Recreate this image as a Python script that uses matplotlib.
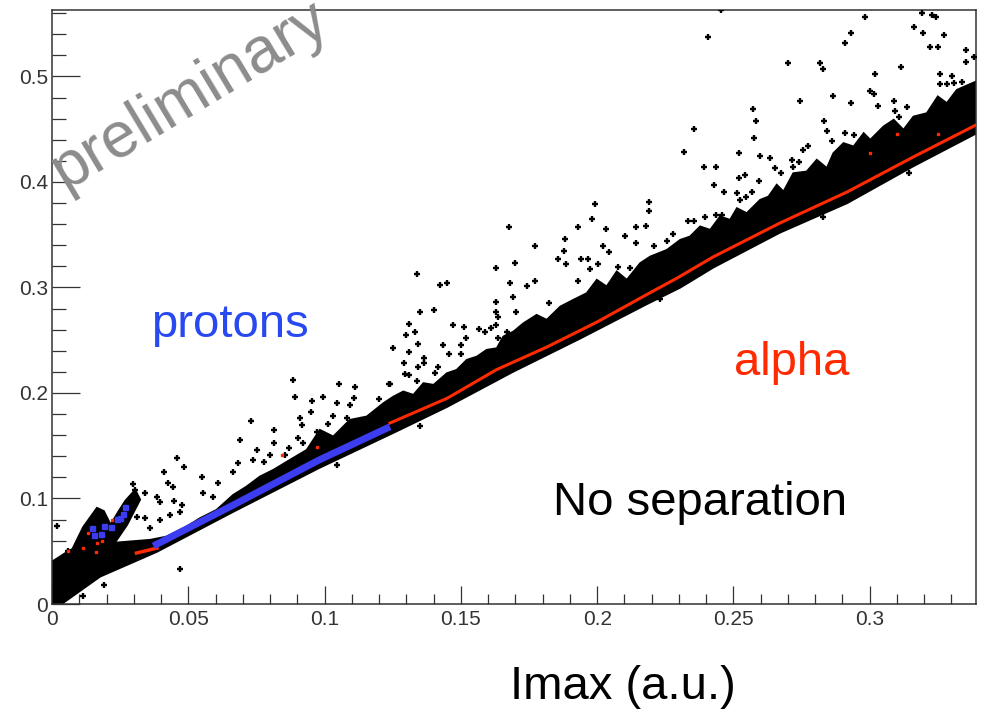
import matplotlib
matplotlib.use('Agg')
import matplotlib.pyplot as plt
from matplotlib.ticker import MultipleLocator

plt.rcParams['font.family'] = ['Liberation Sans', 'DejaVu Sans']

W, H = 982, 709

# values
BAND_X_LOW = [0, .002, .004, .0176, .03, .0385, .0665, .098, .1266, .145, .169, .194, .218, .2305, .2426, .267, .2917, .316, .339]
BAND_Y_LOW = [0, 0, .001, .026, .04, .0496, .0875, .129, .164, .187, .22, .252, .284, .3, .319, .352, .38, .415, .446]

BAND_X_UP = [0, .0066, .012, .023, .036, .0421, .0494, .0543, .0604, .0665, .0714, .0763, .0812, .0873, .0935, .0983,
             .1032, .1093, .1155, .1216, .1253, .1289, .1326, .1363, .14, .1449, .1485, .1522, .1559, .1595, .1632,
             .1656, .1693, .173, .1778, .1815, .1865, .1913, .1962, .1999, .2035, .2072, .2109, .2158, .2195, .2256,
             .2305, .2341, .2378, .2415, .2451, .2488, .2513, .2549, .2598, .2629, .2659, .2684, .272, .2769, .2806,
             .2843, .2867, .2904, .2941, .2978, .3002, .3051, .3088, .3124, .3161, .321, .325, .3283, .332, .339]
BAND_Y_UP = [.04, .051, .056, .058, .0607, .0638, .0733, .0812, .0891, .1033, .1112, .1207, .127, .1365, .146, .1649,
             .1586, .1744, .1776, .1902, .1965, .2013, .1981, .2092, .2076, .2186, .2218, .2313, .2344, .2408, .2423,
             .2534, .2581, .266, .2739, .2692, .2818, .2882, .2945, .3071, .3008, .315, .3071, .3229, .3292, .3355,
             .345, .3482, .3577, .3545, .3671, .364, .375, .3703, .3829, .3861, .3972, .3908, .4082, .4098, .4209,
             .413, .4272, .4367, .4335, .4461, .4398, .4525, .4588, .4493, .4619, .4651, .4809, .4746, .4872, .4951]

PRONG_X = [.0075, .0115, .0165, .019, .0215, .0245, .027, .0305, .0323, .0275, .023, .015]
PRONG_Y = [.052, .073, .091, .088, .075, .088, .098, .108, .099, .075, .058, .05]

RED_X = [.124, .145, .163, .1816, .2, .218, .2294, .2426, .267, .2917, .316, .339]
RED_Y = [.1715, .195, .222, .2436, .2673, .293, .309, .329, .361, .3905, .4237, .454]

RED_LOW_X = [.031, .0385]
RED_LOW_Y = [.0483, .053]

BLUE_X = [.0372, .0665, .098, .124]
BLUE_Y = [.055, .0938, .1365, .168]

BLUE_DOTS_X = [.0146, .0155, .018, .0191, .0215, .0237, .025, .0259, .0267]
BLUE_DOTS_Y = [.072, .0654, .0664, .0742, .073, .0806, .0815, .0853, .092]

RED_DOTS_X = [.0133, .0115, .016, .0165, .0182, .0219, .006, .0971, .0845, .3, .325, .31]
RED_DOTS_Y = [.0672, .0529, .0496, .0575, .0594, .0796, .0506, .1491, .1412, .4278, .4455, .445]

OUT_X = [.0017, .006, .047, .0191, .0113, .0457, .0411, .0486, .0549, .0427, .0443, .0384, .0396, .0448, .0476,
         .0298, .0305, .0341, .0311, .0341, .036, .0396, .0433, .047, .0555, .061, .0592, .0684, .0665, .069,
         .0729, .0751, .0739, .0776, .0816, .0816, .08, .0871, .0892, .0886, .091, .0916, .0904, .092, .0855,
         .0955, .0949, .0996, .1054, .1112, .1047, .1108, .1093, .1198, .124, .1032, .1014, .1081, .1136, .1047,
         .0971, .0983,
         .1338, .1424, .1448, .135, .1402, .1311, .1298, .1332, .1251, .1344, .1308, .1292, .1363, .1365, .1344,
         .1295, .1311, .1338, .1238, .1418, .1405, .1436, .1455, .15, .15, .1518, .1471, .1512, .1565, .1587,
         .161, .1629, .1635, .1669, .1629, .1629, .1635, .1675, .1629, .1697, .1681, .1691, .1703, .1742, .1773,
         .1773, .1825, .1858, .1877, .1883, .1887, .193, .194, .1965, .1974, .193, .198, .1992, .2033, .2005,
         .2021, .2042, .2102, .2143, .2143, .2179, .2189, .2189, .228, .2258, .2209, .2121, .2078, .2229, .135,
         .2455, .2405, .2699, .2816, .2828, .2984, .2931, .2908, .3191, .3228, .3244, .3163, .3197, .3273, .322,
         .325, .3353, .3353, .3384, .3116, .3018, .3257, .3302, .3257, .3283, .3308, .3339, .3002, .3017, .2867,
         .2745, .2931, .303, .3088, .3094, .3137, .3106, .2571, .2584, .2357, .2576, .2317, .2393, .2437, .2427,
         .2467, .2519, .2519, .2541, .2596, .2635, .2653, .2676, .2595, .2833, .2843, .2861, .2908, .2941, .2775,
         .2757, .2714, .2739, .272, .2513, .2568, .2525, .2547, .2335, .2357, .2396, .2437, .2458, .2828, .3145]
OUT_Y = [.0742, .0506, .0329, .018, .0076, .138, .1254, .1302, .1207, .1144, .1112, .1017, .097, .098, .0938,
         .1137, .1081, .1049, .0828, .0812, .0717, .0796, .0844, .0875, .1049, .1144, .1017, .1333, .1254, .1555,
         .1735, .146, .1365, .1349, .1649, .1523, .1412, .1476, .1959, .2123, .176, .1697, .157, .1523, .1412,
         .1924, .1823, .1965, .2085, .2054, .1908, .1949, .1886, .194, .2085, .1782, .1706, .176, .1728, .1318,
         .1633, .1491,
         .3125, .3024, .3046, .2771, .2787, .2654, .255, .2581, .2423, .2464, .2392, .2281, .2329, .2281, .225,
         .218, .2171, .2117, .2085, .2243, .2186, .2455, .237, .2455, .237, .2518, .2645, .2629, .2604, .2581,
         .2613, .2645, .2518, .2581, .2866, .2771, .2724, .357, .3188, .3235, .3039, .2913, .2771, .3014, .3062,
         .3393, .285, .3267, .3346, .346, .3223, .357, .3267, .3267, .3172, .3062, .3649, .3791, .3551, .322,
         .3393, .3333, .3491, .357, .3425, .3586, .381, .3728, .3507, .3444, .3393, .3182, .3197, .2888, .1687,
         .563, .5378, .5125, .5125, .5071, .5567, .5409, .5314, .5599, .5583, .5567, .5472, .5409, .5393, .5283,
         .5283, .5251, .5134, .5182, .5087, .5024, .5024, .5008, .4929, .4929, .4935, .4951, .4866, .4834, .4818,
         .4771, .4752, .472, .4771, .4676, .4714, .4613, .4689, .4578, .4499, .442, .4288, .4145, .4145, .3972,
         .3908, .4278, .4035, .4066, .4246, .4224, .413, .4082, .4013, .4578, .4483, .4389, .4468, .4445, .4341,
         .4303, .4209, .4193, .4145, .3893, .3908, .3829, .3861, .3634, .3634, .3671, .3687, .3687, .3665, .4082]

X_TICKS = [0, .05, .1, .15, .2, .25, .3]
X_LABELS = ['0', '0.05', '0.1', '0.15', '0.2', '0.25', '0.3']
Y_TICKS = [0, .1, .2, .3, .4, .5]
Y_LABELS = ['0', '0.1', '0.2', '0.3', '0.4', '0.5']

RED = '#ff2a00'
BLUE = '#3c3cf0'
DARK = '#333333'


def add_text(fig, px, py, s, **kw):
    fig.text(px / W, 1 - py / H, s, **kw)


fig = plt.figure(figsize=(W / 100, H / 100), dpi=100)
ax = fig.add_axes([52 / W, 1 - 604 / H, (976 - 52) / W, (604 - 10) / H])

# black cloud is drawn as an outline, lower edge then upper edge backwards
ax.fill(BAND_X_LOW + BAND_X_UP[::-1], BAND_Y_LOW + BAND_Y_UP[::-1], color='k', lw=1.5, zorder=2)
ax.fill(PRONG_X, PRONG_Y, color='k', lw=1.5, zorder=2)

ax.plot(OUT_X, OUT_Y, ls='', marker='+', ms=5, mew=1.7, color='k', zorder=3)

ax.plot(RED_X, RED_Y, color=RED, lw=2.2, zorder=4)
ax.plot(RED_LOW_X, RED_LOW_Y, color=RED, lw=2.5, zorder=4)
ax.plot(RED_DOTS_X, RED_DOTS_Y, ls='', marker='s', ms=1.5, color=RED, zorder=4)
ax.plot(BLUE_X, BLUE_Y, color=BLUE, lw=5, solid_capstyle='butt', zorder=5)
ax.plot(BLUE_DOTS_X, BLUE_DOTS_Y, ls='', marker='s', ms=3.6, color=BLUE, zorder=5)

ax.set_xlim(0, .339)
ax.set_ylim(0, .563)
ax.set_xticks(X_TICKS, X_LABELS)
ax.set_yticks(Y_TICKS, Y_LABELS)
ax.xaxis.set_minor_locator(MultipleLocator(.01))
ax.yaxis.set_minor_locator(MultipleLocator(.02))
ax.tick_params(axis='x', which='major', direction='in', length=13, width=.9, color=DARK,
               labelsize=15, labelcolor=DARK, pad=4)
ax.tick_params(axis='x', which='minor', direction='in', length=7.5, width=.9, color=DARK)
ax.tick_params(axis='y', which='major', direction='in', length=20, width=.9, color=DARK,
               labelsize=15, labelcolor=DARK, pad=3)
ax.tick_params(axis='y', which='minor', direction='in', length=10, width=.9, color=DARK)
for s in ax.spines.values():
    s.set_color(DARK)
    s.set_linewidth(1.1)

add_text(fig, 623, 687, 'Imax (a.u.)', fontsize=34, color='k', ha='center', va='center')
add_text(fig, 230, 325, 'protons', fontsize=34, color='#2848f0', ha='center', va='center')
add_text(fig, 792, 363, 'alpha', fontsize=34, color=RED, ha='center', va='center')
add_text(fig, 700, 503, 'No separation', fontsize=34, color='k', ha='center', va='center')
add_text(fig, 190, 95, 'preliminary', fontsize=46, color='#8c8c8c', rotation=31,
         ha='center', va='center', rotation_mode='anchor', zorder=10)

fig.savefig('out.png', dpi=100)
